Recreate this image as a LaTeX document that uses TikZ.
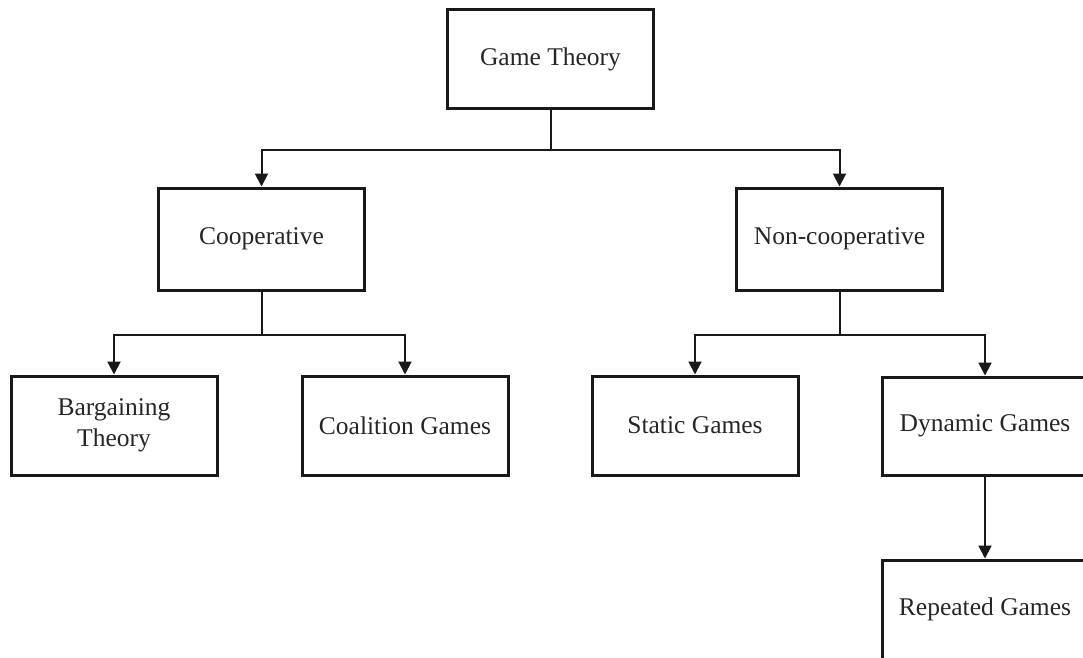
\documentclass[tikz,border=0pt]{standalone}
\usepackage{fontspec}
\setmainfont{Liberation Serif}
\usetikzlibrary{arrows.meta}
\begin{document}
\begin{tikzpicture}[x=1pt,y=-1pt,
  box/.style={draw=black!90, line width=3pt, minimum width=206pt, minimum height=99pt,
    inner sep=0pt, align=center, font=\fontsize{25.5}{31}\selectfont, text=black!85},
  openbox/.style={box, draw=none, outer sep=0pt},
  edge3/.style={line width=3pt, draw=black!90, line join=miter},
  conn/.style={line width=2pt, draw=black!90},
  arr/.style={conn, -{Triangle[width=13pt,length=13pt]}, shorten >=1.5pt}]
\useasboundingbox (0,0) rectangle (1083,657);
\clip (0,0) rectangle (1083,657);
\node[box] (gt) at (550.5,59) {Game Theory};
\node[box, minimum height=102pt] (coop) at (261.5,239) {Cooperative};
\node[box, minimum height=102pt] (ncoop) at (839.5,239) {Non-cooperative};
\node[box] (barg) at (114,425.5) {Bargaining\\Theory};
\node[box] (coal) at (405,425.5) {Coalition Games};
\node[box] (stat) at (695,425.5) {Static Games};
\node[openbox, minimum height=98pt] (dyn) at (985,426) {Dynamic Games};
\node[openbox, minimum height=98pt] (rep) at (985,609) {Repeated Games};
\draw[edge3] ([xshift=30pt]dyn.north east) -- (dyn.north west) -- (dyn.south west) -- ([xshift=30pt]dyn.south east);
\draw[edge3] ([xshift=30pt]rep.north east) -- (rep.north west) -- ([yshift=-30pt]rep.south west);
\coordinate (j1) at (550.5,150);
\coordinate (j2) at (261.5,335);
\coordinate (j3) at (839.5,335);
\draw[conn] (gt.south) -- (j1);
\draw[arr, shorten >=0pt] (j1) -| (coop.north);
\draw[arr, shorten >=0pt] (j1) -| (ncoop.north);
\draw[conn] (coop.south) -- (j2);
\draw[arr, shorten >=0pt] (j2) -| (barg.north);
\draw[arr, shorten >=0pt] (j2) -| (coal.north);
\draw[conn] (ncoop.south) -- (j3);
\draw[arr, shorten >=0pt] (j3) -| (stat.north);
\draw[arr] (j3) -| (dyn.north);
\draw[conn, -{Triangle[width=13pt,length=13pt]}, shorten <=1.5pt, shorten >=1.5pt] (dyn.south) -- (rep.north);
\end{tikzpicture}
\end{document}
